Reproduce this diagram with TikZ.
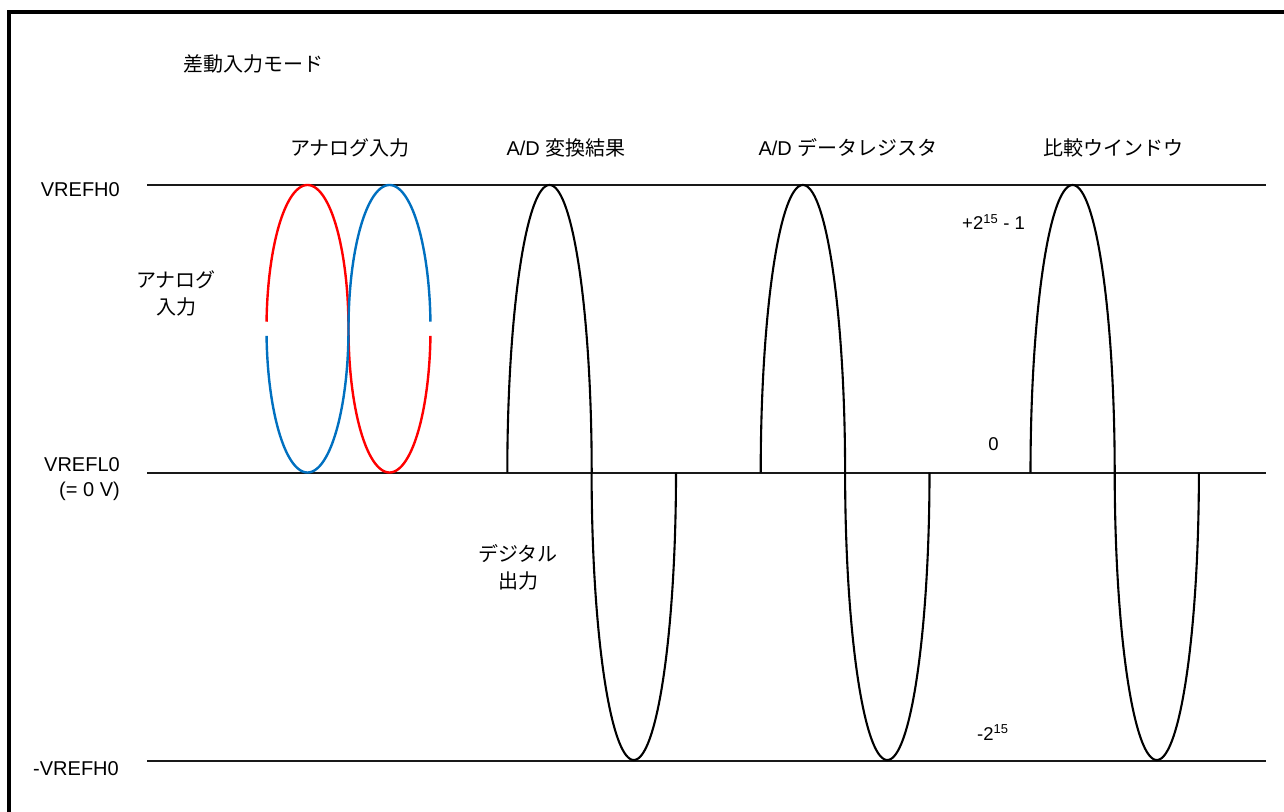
\documentclass[tikz,border=0pt]{standalone}
\usepackage{fontspec}
\setmainfont{Liberation Sans}
\newfontfamily\jp{Noto Sans CJK JP}
\definecolor{wred}{RGB}{255,0,0}
\definecolor{wblue}{RGB}{0,112,192}
\newcommand\adwave[3]{%
  \draw[wave] plot[domain=180:360,samples=120,smooth] ({#1+#3*cos(\x)},{472.5+287.5*sin(\x)});
  \draw[wave] plot[domain=0:180,samples=120,smooth] ({#2+#3*cos(\x)},{472.5+287.5*sin(\x)});
}
\tikzset{
  lvl/.style={line width=2pt, black!90},
  wave/.style={line width=2.1pt, black},
  cwave/.style={line width=2.4pt},
  lbl/.style={font=\fontsize{20}{24}\selectfont, inner sep=0pt},
  jlbl/.style={font=\jp\fontsize{20}{27}\selectfont, inner sep=0pt, align=center},
  num/.style={font=\fontsize{18.5}{22}\selectfont, inner sep=0pt},
}
\begin{document}
\begin{tikzpicture}[x=1pt,y=-1pt]
\useasboundingbox (0,0) rectangle (1284,811);
\clip (0,0) rectangle (1284,811);
\fill[white] (0,0) rectangle (1284,811);
% frame
\draw[line width=4pt] (8.5,830) -- (8.5,11.5) -- (1300,11.5);
% level lines
\coordinate (h0l) at (147,185);   \coordinate (h0r) at (1266,185);
\coordinate (l0l) at (147,472.5); \coordinate (l0r) at (1266,472.5);
\coordinate (n0l) at (147,760.5); \coordinate (n0r) at (1266,760.5);
\draw[lvl] (h0l) -- (h0r);
\draw[lvl] (l0l) -- (l0r);
\draw[lvl] (n0l) -- (n0r);
% analog input (differential)
\draw[cwave, wred] plot[domain=182.8:360,samples=120,smooth] ({307.5+41*cos(\x)},{328.75+143.75*sin(\x)});
\draw[cwave, wred] plot[domain=0:177.2,samples=120,smooth] ({389.5-41*cos(\x)},{328.75+143.75*sin(\x)});
\draw[cwave, wblue] plot[domain=0:177.2,samples=120,smooth] ({307.5+41*cos(\x)},{328.75+143.75*sin(\x)});
\draw[cwave, wblue] plot[domain=180:357.2,samples=120,smooth] ({389.5+41*cos(\x)},{328.75+143.75*sin(\x)});
% digital waves
\adwave{549.5}{633.8}{42.2}
\adwave{802.9}{887.3}{42.2}
\adwave{1072.6}{1156.8}{42.1}
% texts
\node[jlbl, anchor=west] (title) at (183,64) {差動入力モード};
\node[jlbl] (hAnalog) at (350,148) {アナログ入力};
\node[lbl] (hADres) at (566,148) {A/D {\jp 変換結果}};
\node[lbl] (hADreg) at (848,148) {A/D {\jp データレジスタ}};
\node[jlbl] (hWin) at (1113,148) {比較ウインドウ};
\node[lbl, anchor=base east] (lVH) at (120,196) {VREFH0};
\node[jlbl] (lAnalog) at (176,293.5) {アナログ\\入力};
\node[lbl, anchor=base east] (lVL) at (120,471) {VREFL0};
\node[lbl, anchor=base east] (lVL2) at (120,496) {(= 0 V)};
\node[lbl, anchor=base east] (lVHn) at (119,775) {-VREFH0};
\node[jlbl] (lDigital) at (518,567) {デジタル\\出力};
\node[num, anchor=base west] (nMax) at (962,229.5) {+2\textsuperscript{15} - 1};
\node[num, anchor=base] (nZero) at (993.5,450) {0};
\node[num, anchor=base west] (nMin) at (977,740) {-2\textsuperscript{15}};
\end{tikzpicture}
\end{document}
